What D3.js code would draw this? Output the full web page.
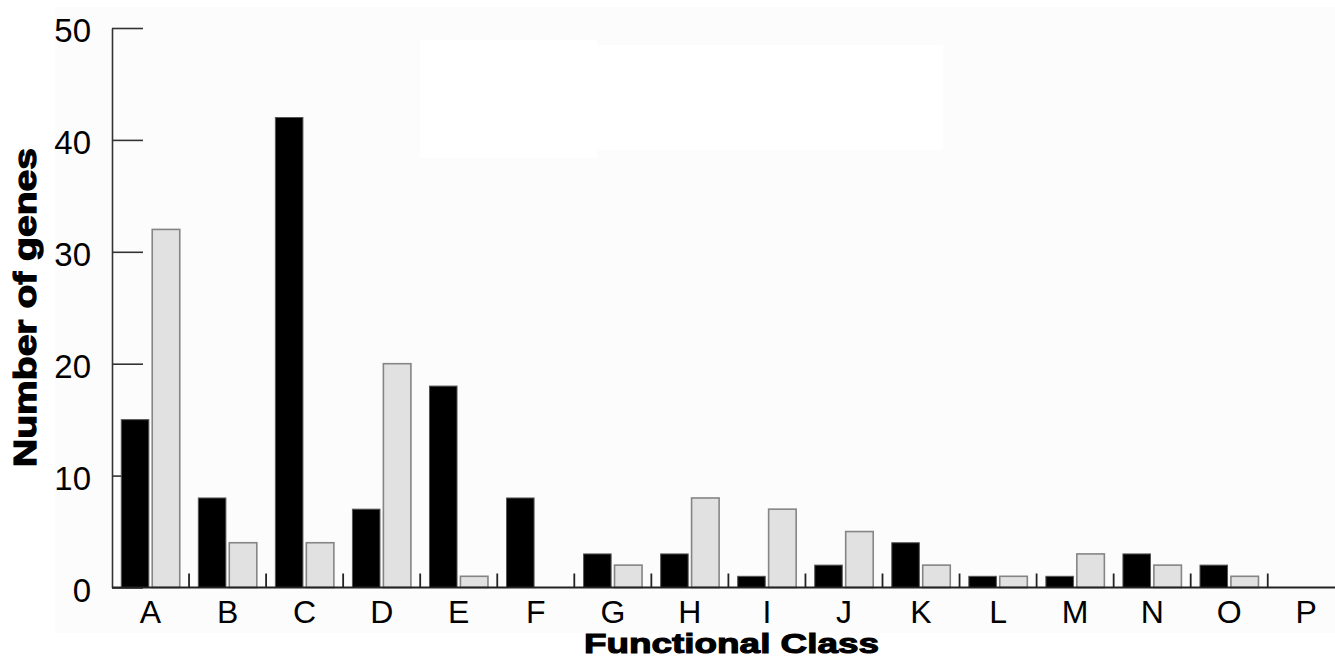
<!DOCTYPE html>
<html>
<head>
<meta charset="utf-8">
<script src="https://cdn.jsdelivr.net/npm/d3@7"></script>
<style>
  html, body { margin: 0; padding: 0; background: #ffffff; }
  svg { display: block; }
</style>
</head>
<body>
<svg id="chart" width="1335" height="667"></svg>
<script>
// ---- data ----
const categories = ["A","B","C","D","E","F","G","H","I","J","K","L","M","N","O","P"];
const seriesNames = ["black", "gray"];
const blackValues = [15, 8, 42, 7, 18, 8, 3, 3, 1, 2, 4, 1, 1, 3, 2, 0];
const grayValues  = [32, 4, 4, 20, 1, 0, 2, 8, 7, 5, 2, 1, 3, 2, 1, 0];
const yTicks = [0, 10, 20, 30, 40, 50];
const xTitle = "Functional Class";
const yTitle = "Number of genes";

// ---- layout ----
const W = 1335, H = 667;
const x0 = 112, step = 77.05;
const y0 = 587.5, yTop = 28;

const svg = d3.select("#chart");

// background (slightly off-white plot area with erased white patch)
svg.append("rect").attr("x", 55).attr("y", 7).attr("width", W - 55).attr("height", 626).attr("fill", "#fcfcfc");
svg.append("rect").attr("x", 420).attr("y", 40).attr("width", 177).attr("height", 118).attr("fill", "#ffffff");
svg.append("rect").attr("x", 597).attr("y", 45).attr("width", 346).attr("height", 105).attr("fill", "#ffffff");

const x = d3.scaleBand().domain(categories).range([x0, x0 + step * categories.length]).paddingInner(0).paddingOuter(0);
const xs = d3.scaleBand().domain(seriesNames).range([0, x.bandwidth()]).paddingInner(0.11).paddingOuter(0.3);
const y = d3.scaleLinear().domain([0, 50]).range([y0, yTop]);

const rows = categories.map((c, i) => ({ cat: c, black: blackValues[i], gray: grayValues[i] }));

// y axis with inward ticks
const yAxis = d3.axisLeft(y).tickValues(yTicks).tickSizeInner(-31).tickSizeOuter(0).tickPadding(21);
const gy = svg.append("g").attr("transform", `translate(${x0},0)`).call(yAxis);
gy.select(".domain").attr("stroke", "#333").attr("stroke-width", 1.6);
gy.selectAll(".tick line").attr("stroke", "#333").attr("stroke-width", 1.6);
gy.selectAll(".tick text")
  .attr("font-family", "Liberation Sans, Arial, sans-serif")
  .attr("font-size", 33)
  .attr("fill", "#000")
  .attr("dy", "0.42em");

// bars
const groups = svg.append("g").selectAll("g").data(rows).join("g")
  .attr("transform", d => `translate(${x(d.cat)},0)`);

groups.filter(d => d.black > 0).append("rect")
  .attr("x", xs("black"))
  .attr("width", xs.bandwidth())
  .attr("y", d => y(d.black))
  .attr("height", d => y0 - y(d.black))
  .attr("fill", "#000")
  .attr("stroke", "#555")
  .attr("stroke-width", 1);

groups.filter(d => d.gray > 0).append("rect")
  .attr("x", xs("gray"))
  .attr("width", xs.bandwidth())
  .attr("y", d => y(d.gray))
  .attr("height", d => y0 - y(d.gray))
  .attr("fill", "#e1e1e1")
  .attr("stroke", "#858585")
  .attr("stroke-width", 1.6);

// x axis baseline
svg.append("line").attr("x1", x0).attr("x2", W).attr("y1", y0).attr("y2", y0)
  .attr("stroke", "#222").attr("stroke-width", 1.8);

// category separators
svg.append("g").selectAll("line").data(categories.slice(1)).join("line")
  .attr("x1", d => x(d)).attr("x2", d => x(d))
  .attr("y1", y0).attr("y2", y0 - 14)
  .attr("stroke", "#222").attr("stroke-width", 1.8);

// x labels
const xAxis = d3.axisBottom(x).tickSize(0).tickPadding(0);
const gx = svg.append("g").attr("transform", `translate(0,${y0})`).call(xAxis);
gx.select(".domain").remove();
gx.selectAll(".tick text")
  .attr("font-family", "Liberation Sans, Arial, sans-serif")
  .attr("font-size", 32)
  .attr("fill", "#000")
  .attr("y", 35)
  .attr("dy", 0);

// axis titles
svg.append("text")
  .attr("x", 731.5).attr("y", 653)
  .attr("text-anchor", "middle")
  .attr("font-family", "Liberation Sans, Arial, sans-serif")
  .attr("font-weight", "bold")
  .attr("font-size", 28)
  .attr("stroke", "#000").attr("stroke-width", 1.1)
  .attr("textLength", 295).attr("lengthAdjust", "spacingAndGlyphs")
  .text(xTitle);

svg.append("text")
  .attr("transform", "translate(36,307.5) rotate(-90)")
  .attr("text-anchor", "middle")
  .attr("font-family", "Liberation Sans, Arial, sans-serif")
  .attr("font-weight", "bold")
  .attr("font-size", 31)
  .attr("stroke", "#000").attr("stroke-width", 1.2)
  .attr("textLength", 319).attr("lengthAdjust", "spacingAndGlyphs")
  .text(yTitle);
</script>
</body>
</html>
